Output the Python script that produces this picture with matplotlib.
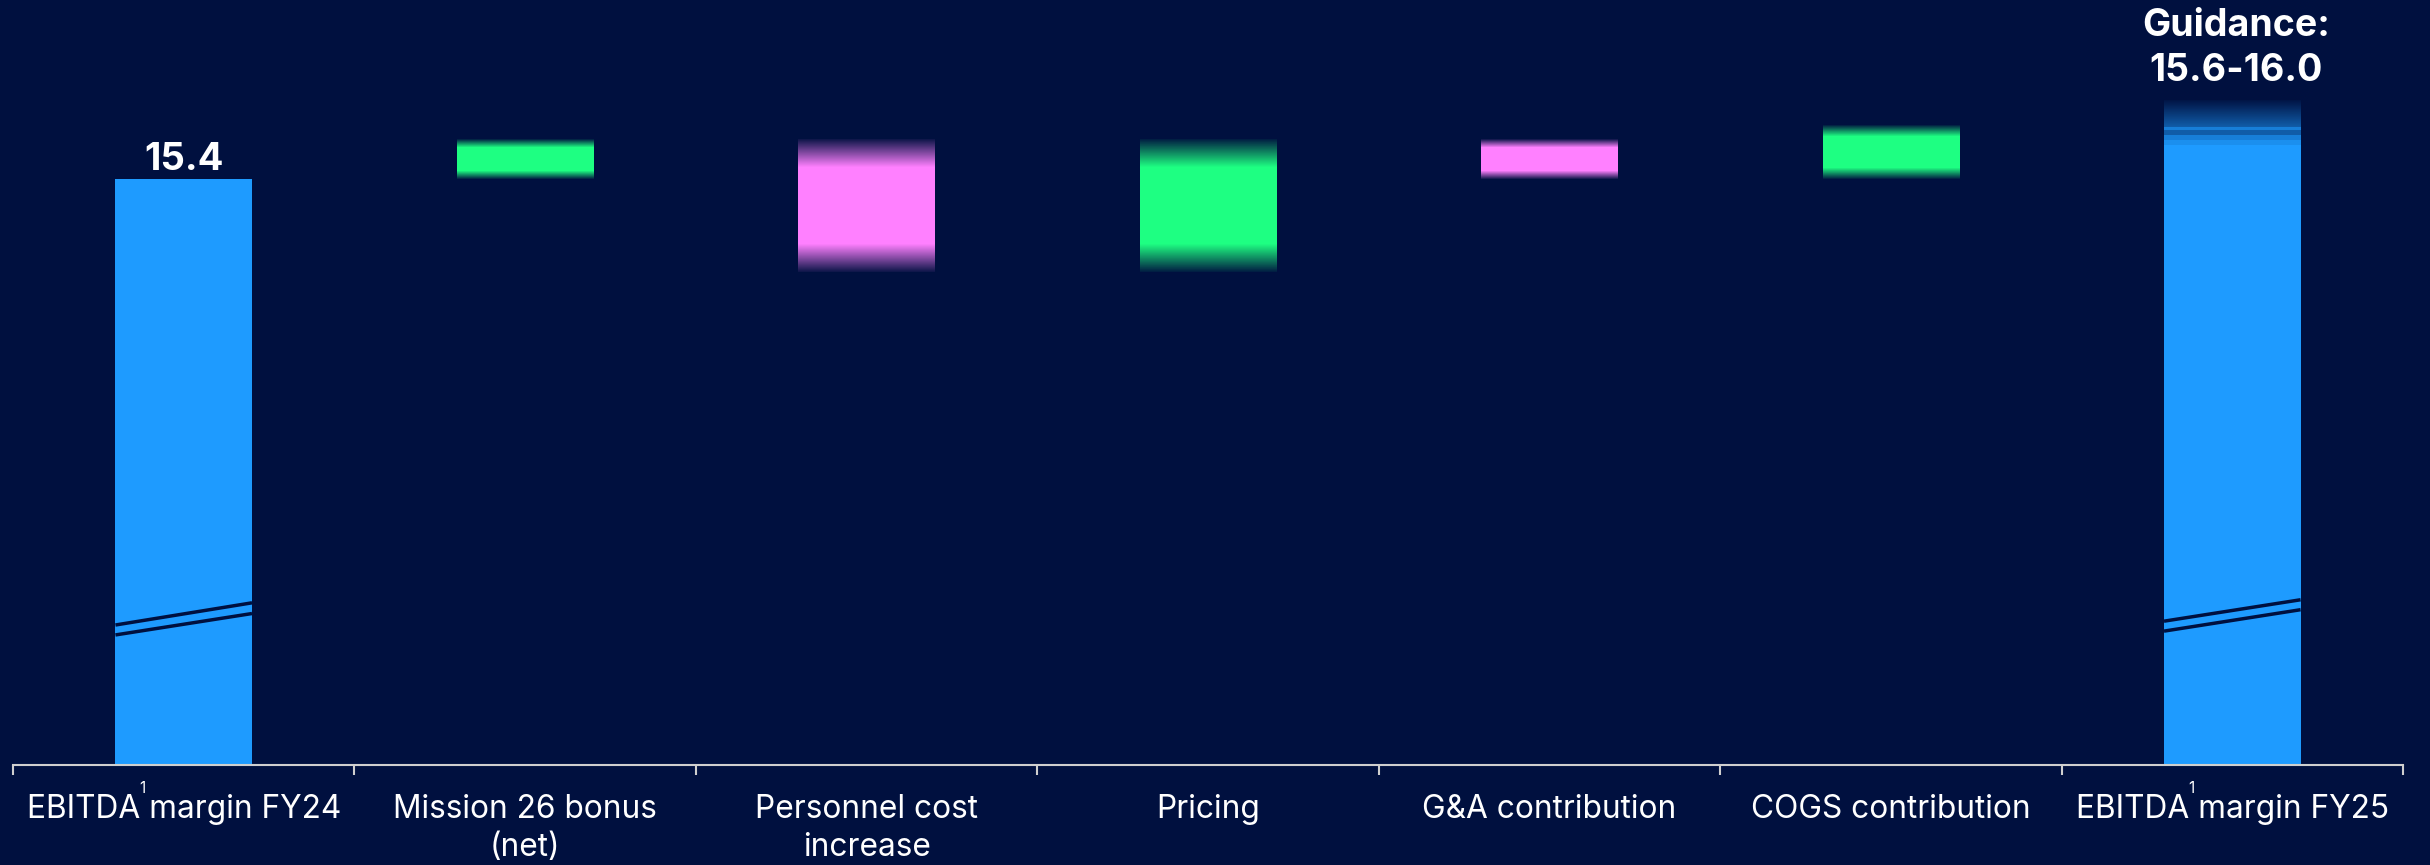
import numpy as np
import matplotlib
matplotlib.use("Agg")
import matplotlib.pyplot as plt
from matplotlib.transforms import blended_transform_factory, IdentityTransform
from matplotlib.colors import to_rgb

# ---------------- data ----------------
categories = ["EBITDA margin FY24", "Mission 26 bonus\n(net)", "Personnel cost\nincrease",
              "Pricing", "G&A contribution", "COGS contribution", "EBITDA margin FY25"]
footnoted = [0, 6]                      # categories carrying footnote "1" after "EBITDA"
start_value = 15.4
deltas = [0.4, -1.35, 1.35, -0.4, 0.55]  # Mission 26, Personnel, Pricing, G&A, COGS
fy25_band = [15.75, 16.2]                # drawn guidance band of the FY25 bar
guidance_low = 15.6
guidance_high = 16.0

# ---------------- style ----------------
BG = "#00103f"
BLUE = "#1e9bff"
GREEN = "#1eff82"
PINK = "#ff80ff"
AXIS = "#cfcfcf"
BAR_W = 0.4
YLIM = (9.42, 17.227)
PX = 0.72  # points per pixel at dpi 100

plt.rcParams['font.family'] = ['Inter', 'DejaVu Sans']

fig = plt.figure(figsize=(24.3, 8.65), dpi=100)
fig.patch.set_facecolor(BG)
ax = fig.add_axes([13 / 2430, 100 / 865, 2390 / 2430, 765 / 865])
ax.set_facecolor(BG)
for s in ["top", "right", "left"]:
    ax.spines[s].set_visible(False)
ax.spines["bottom"].set_color(AXIS)
ax.spines["bottom"].set_linewidth(1.5)

blend = blended_transform_factory(ax.transData, ax.transAxes)


def rgba_column(color, alphas):
    r, g, b = to_rgb(color)
    arr = np.zeros((len(alphas), 1, 4))
    arr[:, 0, 0] = r
    arr[:, 0, 1] = g
    arr[:, 0, 2] = b
    arr[:, 0, 3] = alphas
    return arr


# start bar
ax.bar([0], [start_value - YLIM[0]], bottom=YLIM[0], width=BAR_W, color=BLUE, zorder=2)

# floating bars with faded ends
level = start_value
N = 400
t = (np.arange(N) + 0.5) / N
fade = 0.21
for k, d in enumerate(deltas):
    i = k + 1
    lo, hi = sorted([level, level + d])
    dist = np.minimum(t, 1 - t)
    alphas = 0.05 + 0.95 * np.clip(dist / fade, 0, 1)
    color = GREEN if d > 0 else PINK
    ax.imshow(rgba_column(color, alphas), extent=(i - BAR_W / 2, i + BAR_W / 2, lo, hi),
              aspect="auto", origin="lower", interpolation="nearest", zorder=3)
    level += d

# end bar: solid part + guidance band gradient
last = len(categories) - 1
ax.bar([last], [fy25_band[0] - YLIM[0]], bottom=YLIM[0], width=BAR_W, color=BLUE, zorder=2)
prof = np.empty(N)
prof[t < 0.114] = 0.92
prof[(t >= 0.114) & (t < 0.227)] = 0.8
prof[(t >= 0.227) & (t < 0.341)] = 0.55
prof[(t >= 0.341) & (t < 0.409)] = 0.8
m = t >= 0.409
prof[m] = 0.55 - 0.52 * (t[m] - 0.409) / (1 - 0.409)
ax.imshow(rgba_column(BLUE, prof), extent=(last - BAR_W / 2, last + BAR_W / 2, fy25_band[0], fy25_band[1]),
          aspect="auto", origin="lower", interpolation="nearest", zorder=3)

# axis break marks on the two solid bars
breaks = {0: [(0.183, 0.212), (0.170, 0.198)], last: [(0.188, 0.216), (0.175, 0.203)]}
for i, lines in breaks.items():
    for y0, y1 in lines:
        ax.plot([i - BAR_W / 2, i + BAR_W / 2], [y0, y1], transform=blend, color=BG,
                lw=2.5, solid_capstyle="butt", zorder=6)

# value labels
ax.annotate(f"{start_value:.1f}", xy=(0, start_value), xytext=(0, 9 * PX), textcoords="offset points",
            ha="center", va="baseline", fontsize=27.5, fontweight="bold", color="white")
guid_lines = ["Guidance:", f"{guidance_low:.1f}-{guidance_high:.1f}"]
for k, line in enumerate(guid_lines):
    ax.annotate(line, xy=(last, fy25_band[1]), xytext=(4 * PX, (65 - 45 * k) * PX),
                textcoords="offset points", ha="center", va="baseline",
                fontsize=27, fontweight="bold", color="white")

# axes, ticks
ax.set_xlim(-0.5, len(categories) - 0.5)
ax.set_ylim(*YLIM)
ax.set_xticks(np.arange(-0.5, len(categories), 1))
ax.set_yticks([])
ax.tick_params(axis="x", length=10 * PX, width=1.5, color=AXIS, labelbottom=False, direction="out")

labels = {}
for i, c in enumerate(categories):
    for k, line in enumerate(c.split("\n")):
        a = ax.annotate(line, xy=(i, 0), xycoords=blend, xytext=(0, (-53 - 38 * k) * PX),
                        textcoords="offset points", ha="center", va="baseline",
                        fontsize=22.8, color="white")
        if k == 0:
            labels[i] = a

# footnote superscripts
fig.canvas.draw()
renderer = fig.canvas.get_renderer()
for i in footnoted:
    lab = labels[i]
    bb = lab.get_window_extent(renderer)
    w, h, dsc = renderer.get_text_width_height_descent("EBITDA", lab.get_fontproperties(), ismath=False)
    fig.text(bb.x0 + w - 1, 865 - 793, "1", transform=IdentityTransform(), fontsize=11,
             color="white", ha="left", va="baseline")

fig.savefig("out.png", dpi=100, facecolor=BG)
